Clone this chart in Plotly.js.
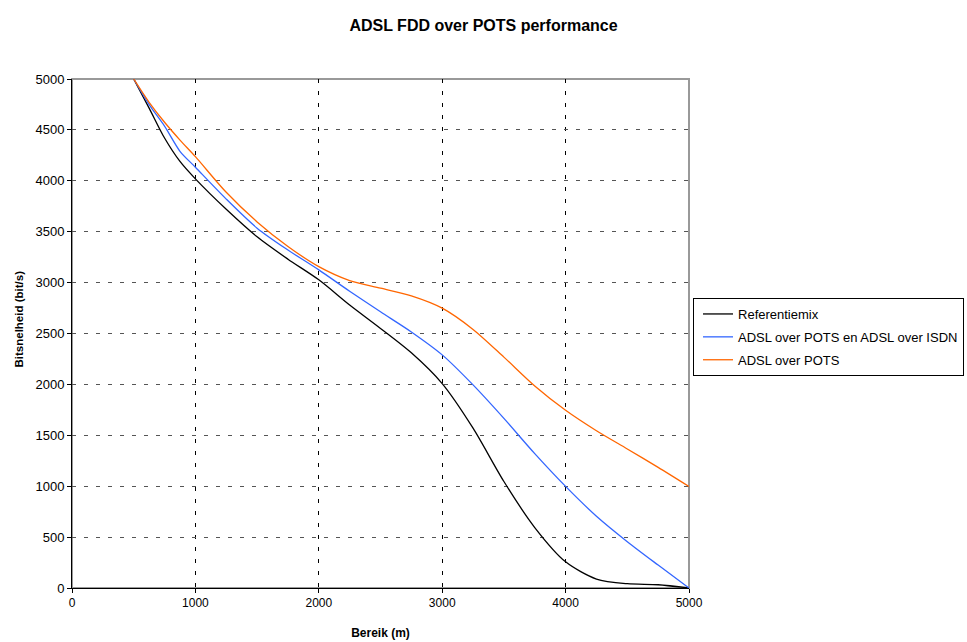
<!DOCTYPE html>
<html>
<head>
<meta charset="utf-8">
<script src="https://cdn.plot.ly/plotly-3.0.1.min.js"></script>
<style>html,body{margin:0;padding:0;background:#fff;overflow:hidden}#chart{width:967px;height:642px}</style>
</head>
<body>
<div id="chart"></div>
<script>
const seriesNames = ["Referentiemix", "ADSL over POTS en ADSL over ISDN", "ADSL over POTS"];
const seriesColors = ["#000000", "#3366ff", "#ff6600"];

const rangeM = [500, 625, 750, 875, 1000, 1250, 1500, 1750, 2000, 2250, 2500, 2750, 3000, 3250, 3500, 3750, 4000, 4250, 4500, 4750, 5000];

const refY  = [5000, 4714, 4420, 4190, 4019, 3720, 3450, 3230, 3027, 2780, 2550, 2310, 2008, 1570, 1046, 594, 257, 88, 42, 32, 0];
const bothY = [5000, 4748, 4537, 4290, 4133, 3820, 3535, 3320, 3125, 2915, 2713, 2515, 2290, 1995, 1666, 1320, 998, 705, 455, 225, 0];
const potsY = [5000, 4771, 4575, 4400, 4237, 3887, 3596, 3355, 3157, 3020, 2945, 2870, 2749, 2540, 2268, 1985, 1746, 1545, 1366, 1185, 997];

const xTicks = [0, 1000, 2000, 3000, 4000, 5000];
const yTicks = [0, 500, 1000, 1500, 2000, 2500, 3000, 3500, 4000, 4500, 5000];

const ys = [refY, bothY, potsY];
const traces = ys.map((y, i) => ({
  type: "scatter", mode: "lines", name: seriesNames[i], x: rangeM, y: y,
  legendgroup: "g" + i,
  line: {color: seriesColors[i], width: 1.3, shape: "spline", smoothing: 0.8}
}));

const font = "Liberation Sans, Arial, sans-serif";
const layout = {
  width: 967, height: 642,
  margin: {l: 72, r: 278, t: 79, b: 54, autoexpand: false},
  paper_bgcolor: "#fff", plot_bgcolor: "#fff",
  font: {family: font, size: 13, color: "#000"},
  title: {text: "<b>ADSL FDD over POTS performance</b>", x: 0.5, xref: "container", xanchor: "center", y: 0.961, yref: "container", yanchor: "middle", font: {family: font, size: 16, color: "#000"}},
  xaxis: {
    range: [0, 5000], tickvals: xTicks, ticktext: xTicks.map(String),
    showline: true, linecolor: "#000", linewidth: 1,
    ticks: "outside", ticklen: 4, tickcolor: "#000",
    showgrid: true, gridcolor: "#000", griddash: "4px,8px", gridwidth: 1,
    zeroline: false, tickfont: {size: 12},
    title: {text: "<b>Bereik (m)</b>", font: {size: 12}, standoff: 19}
  },
  yaxis: {
    range: [0, 5000], tickvals: yTicks, ticktext: yTicks.map(String),
    showline: true, linecolor: "#000", linewidth: 1,
    ticks: "outside", ticklen: 4, tickcolor: "#000",
    showgrid: true, gridcolor: "#555", griddash: "4px,8px", gridwidth: 1,
    zeroline: false, tickfont: {size: 13}
  },
  annotations: [{
    text: "<b>Bitsnelheid (bit/s)</b>", textangle: -90, showarrow: false,
    xref: "paper", yref: "paper", x: (18 - 72) / 617, y: (588 - 318.5) / 509,
    xanchor: "center", yanchor: "middle", font: {family: font, size: 11.5, color: "#000"}
  }],
  shapes: [{type: "rect", xref: "paper", yref: "paper", x0: 0, x1: 1, y0: 0, y1: 1, line: {color: "#999", width: 2}, layer: "below"}],
  legend: {
    x: 1.0065, xanchor: "left", y: 1 - (298 - 79) / 509, yanchor: "top",
    bordercolor: "#000", borderwidth: 1, bgcolor: "#fff",
    font: {size: 13}, traceorder: "grouped", tracegroupgap: 3, itemwidth: 30, indentation: 4
  },
  showlegend: true
};

Plotly.newPlot("chart", traces, layout, {displayModeBar: false, staticPlot: true});
</script>
</body>
</html>
